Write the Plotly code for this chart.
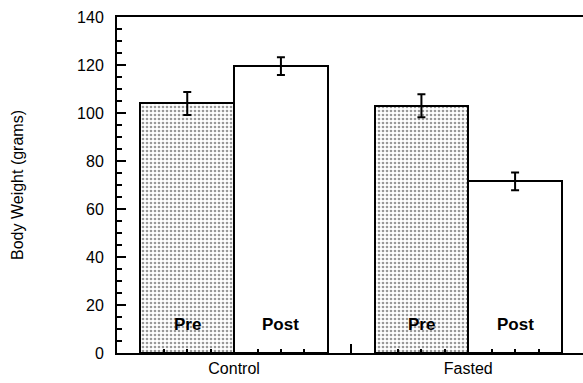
import plotly.graph_objects as go

groups = ["Control", "Fasted"]
group_centers = [0.5, 1.5]
phases = ["Pre", "Post", "Pre", "Post"]
bar_x = [0.3, 0.7, 1.3, 1.7]
weights = [104, 119.5, 103, 71.5]
errors = [4.8, 3.7, 4.8, 3.7]
y_ticks = [0, 20, 40, 60, 80, 100, 120, 140]

is_pre = [p == "Pre" for p in phases]

fig = go.Figure()
for pre in (True, False):
    xs = [x for x, f in zip(bar_x, is_pre) if f == pre]
    ys = [w for w, f in zip(weights, is_pre) if f == pre]
    es = [e for e, f in zip(errors, is_pre) if f == pre]
    fig.add_trace(go.Bar(
        x=xs, y=ys, width=0.4,
        marker=dict(
            color="white",
            line=dict(color="black", width=2),
            pattern=dict(shape="." if pre else "", fgcolor="#333", bgcolor="white",
                         size=4, solidity=0.35, fillmode="overlay"),
        ),
        error_y=dict(type="data", array=es, color="black", thickness=2, width=4),
        showlegend=False, hoverinfo="skip",
    ))

# invisible trace for the label axis
fig.add_trace(go.Scatter(x=group_centers, y=[0, 0], xaxis="x2", mode="markers",
                         marker=dict(opacity=0), showlegend=False, hoverinfo="skip"))

for x, p in zip(bar_x, phases):
    fig.add_annotation(x=x, y=12, text="<b>%s</b>" % p, showarrow=False,
                       font=dict(family="Liberation Sans, Arial", size=17, color="black"))

fig.update_layout(
    width=583, height=383,
    margin=dict(l=117, r=0, t=17, b=30),
    paper_bgcolor="white", plot_bgcolor="white",
    bargap=0, barmode="overlay",
    font=dict(family="Liberation Sans, Arial", color="black"),
    xaxis=dict(range=[0, 1.99], tickvals=[0, 1, 2], ticks="inside", ticklen=9,
               tickwidth=2, tickcolor="black", showticklabels=False,
               minor=dict(dtick=0.1, tick0=0, ticks="inside", ticklen=4,
                          tickwidth=1.5, tickcolor="black", showgrid=False),
               showgrid=False, zeroline=False, showline=True, linecolor="black",
               linewidth=2, mirror=True),
    xaxis2=dict(overlaying="x", anchor="y", side="bottom", range=[0, 1.99],
                tickvals=group_centers, ticktext=groups, ticks="", showline=False,
                showgrid=False, zeroline=False, tickfont=dict(size=16),
                ticklabelstandoff=4),
    yaxis=dict(range=[0, 140], tickvals=y_ticks, ticks="inside", ticklen=9,
               tickwidth=2, tickcolor="black",
               minor=dict(dtick=5, tick0=0, ticks="inside", ticklen=5,
                          tickwidth=1.5, tickcolor="black", showgrid=False),
               showgrid=False, zeroline=False, showline=True, linecolor="black",
               linewidth=2, tickfont=dict(size=16), ticklabelstandoff=8,
               title=dict(text="Body Weight (grams)", font=dict(size=16), standoff=49)),
)

fig.write_html("out.html")
